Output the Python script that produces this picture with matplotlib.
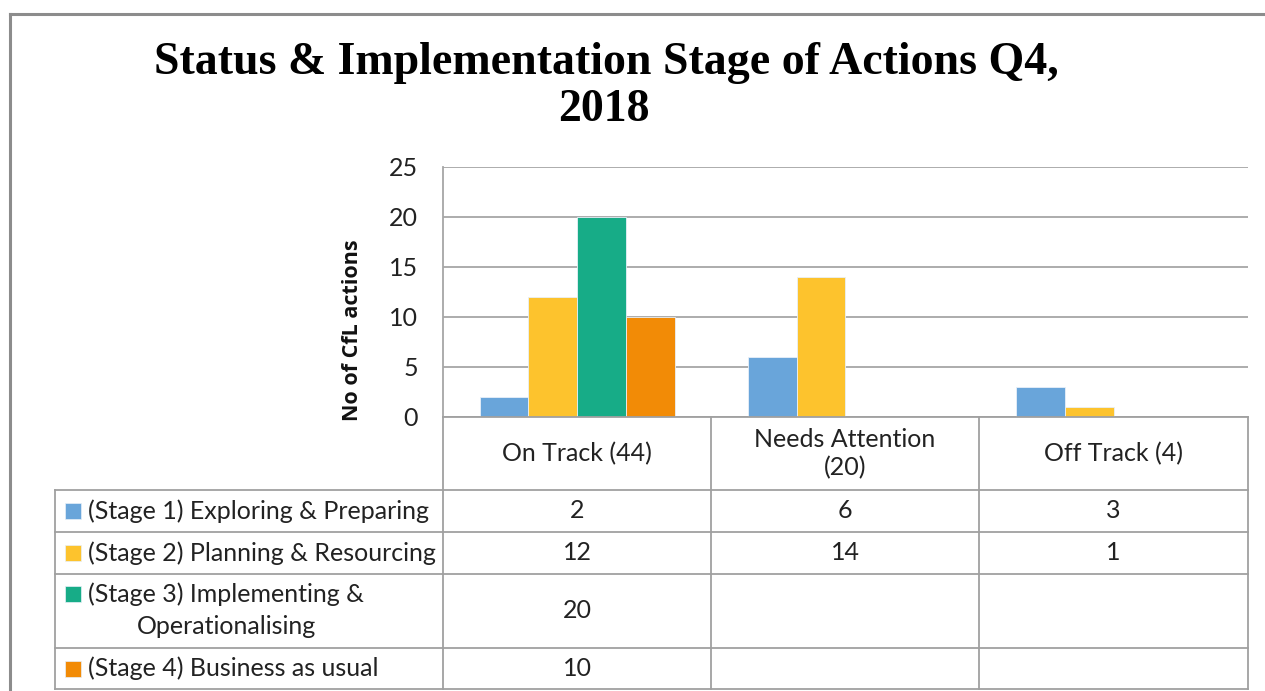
import matplotlib.pyplot as plt
import numpy as np
from matplotlib.lines import Line2D
from matplotlib.patches import Rectangle

categories = ['On Track (44)', 'Needs Attention\n(20)', 'Off Track (4)']
series = ['(Stage 1) Exploring & Preparing',
          '(Stage 2) Planning & Resourcing',
          '(Stage 3) Implementing &\nOperationalising',
          '(Stage 4) Business as usual']
values = [[2, 6, 3],
          [12, 14, 1],
          [20, None, None],
          [10, None, None]]
colors = ['#69A5DA', '#FDC32D', '#17AC87', '#F28B06']
y_ticks = [0, 5, 10, 15, 20, 25]

W, H = 1265, 691
fig = plt.figure(figsize=(W / 100, H / 100), dpi=100)
fig.patch.set_facecolor('white')

def fx(px):
    return px / W

def fy(py):
    return 1 - py / H

# chart frame
fig.add_artist(Line2D([fx(10), 1], [fy(14), fy(14)], color='#8C8C8C', lw=2.2))
fig.add_artist(Line2D([fx(10), fx(10)], [fy(14), 0], color='#8C8C8C', lw=2.2))

fig.text(fx(606), fy(63), 'Status & Implementation Stage of Actions Q4,',
         ha='center', va='center', family='Liberation Serif', weight='bold', size=33)
fig.text(fx(604), fy(110), '2018',
         ha='center', va='center', family='Liberation Serif', weight='bold', size=33)

left, right, top, bottom = 443, 1248, 167, 417
ax = fig.add_axes([fx(left), fy(bottom), fx(right - left), (bottom - top) / H])

x = np.arange(len(categories))
bw = 1 / 5.5
for i, (vals, c) in enumerate(zip(values, colors)):
    v = [0 if a is None else a for a in vals]
    ax.bar(x + (i - 1.5) * bw, v, width=bw, color=c, edgecolor='#E8F0F8', lw=0.6, zorder=3)

ax.set_xlim(-0.5, len(categories) - 0.5)
ax.set_ylim(0, 25)
ax.set_yticks(y_ticks)
ax.set_xticks([])
ax.grid(axis='y', color='#A6A6A6', lw=1.3, zorder=0)
for s in ['top', 'right', 'bottom']:
    ax.spines[s].set_visible(False)
ax.spines['left'].set_color('#A6A6A6')
ax.spines['left'].set_linewidth(1.3)
ax.tick_params(axis='y', length=0, pad=18, labelsize=18, labelcolor='#222222')
for t in ax.get_yticklabels():
    t.set_family('Lato')
fig.text(fx(352), fy(330), 'No of CfL actions', rotation=90, ha='center', va='center',
         family='Open Sans', weight='bold', size=15.5, color='#111111')

# data table
col_x = [55, 443, 711, 979, 1248]
row_y = [417, 490, 532, 574, 648, 689]
gc = '#A0A0A0'
tlw = 1.3
for cx in col_x[1:]:
    fig.add_artist(Line2D([fx(cx), fx(cx)], [fy(row_y[0]), fy(row_y[-1])], color=gc, lw=tlw))
fig.add_artist(Line2D([fx(col_x[0]), fx(col_x[0])], [fy(row_y[1]), fy(row_y[-1])], color=gc, lw=tlw))
fig.add_artist(Line2D([fx(col_x[1]), fx(col_x[-1])], [fy(row_y[0]), fy(row_y[0])], color=gc, lw=tlw))
for ry in row_y[1:]:
    fig.add_artist(Line2D([fx(col_x[0]), fx(col_x[-1])], [fy(ry), fy(ry)], color=gc, lw=tlw))

txt = dict(family='Lato', size=18, color='#222222')
for j, cat in enumerate(categories):
    cx = (col_x[j + 1] + col_x[j + 2]) / 2
    cy = (row_y[0] + row_y[1]) / 2
    fig.text(fx(cx), fy(cy), cat, ha='center', va='center', linespacing=1.25, **txt)

for i, (name, vals, c) in enumerate(zip(series, values, colors)):
    y0, y1 = row_y[i + 1], row_y[i + 2]
    lines = name.split('\n')
    ly = y0 + 20 if len(lines) > 1 else (y0 + y1) / 2
    fig.add_artist(Rectangle((fx(65), fy(ly + 8)), fx(16), 16 / H, facecolor=c,
                             edgecolor='#E8F0F8', lw=0.5))
    t1 = fig.text(fx(88), fy(ly), lines[0], ha='left', va='center', **txt)
    if len(lines) > 1:
        fig.text(fx(227), fy(ly + 33), lines[1], ha='center', va='center', **txt)
    for j, v in enumerate(vals):
        if v is None:
            continue
        cx = (col_x[j + 1] + col_x[j + 2]) / 2
        fig.text(fx(cx), fy((y0 + y1) / 2), str(v), ha='center', va='center', **txt)

fig.savefig('out.png', dpi=100)
